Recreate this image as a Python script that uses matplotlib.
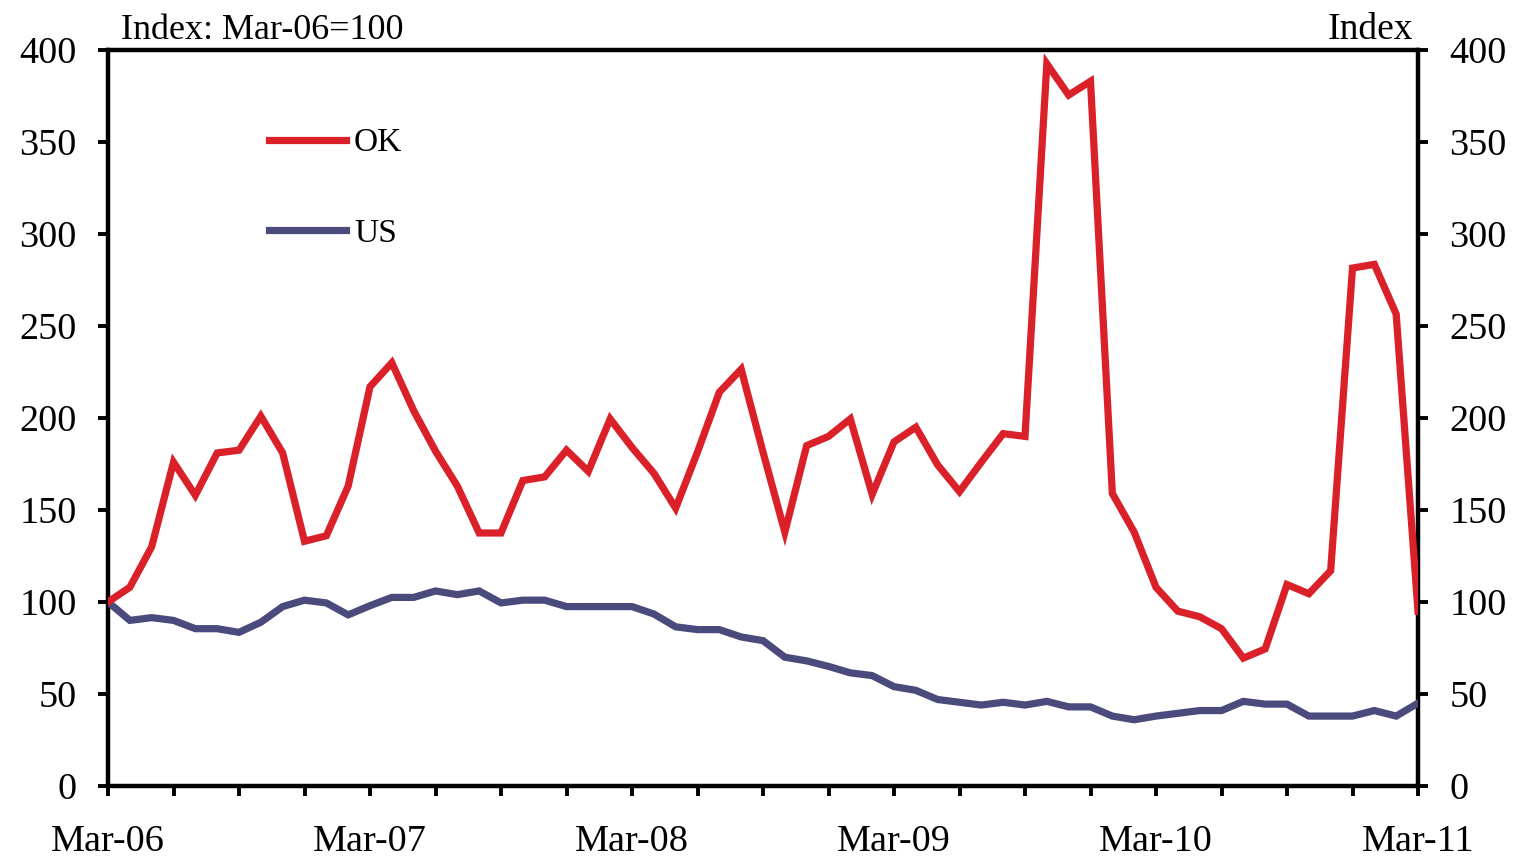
import matplotlib
matplotlib.use("Agg")
import matplotlib.pyplot as plt
import numpy as np

plt.rcParams['font.family'] = ['Liberation Serif', 'DejaVu Serif']

tick_labels = ["Mar-06", "Mar-07", "Mar-08", "Mar-09", "Mar-10", "Mar-11"]

ok = [100, 108, 130, 176, 158, 181, 182.5, 201, 181, 133, 136, 163,
      217, 230, 204, 182, 163, 137.5, 137.5, 166, 168, 182.5, 171, 199.5,
      184, 170, 151, 181.5, 214, 226.5, 181.5, 138, 185, 190, 199.5, 158.5,
      187, 195, 174.5, 160, 176, 191.5, 190, 392.5, 375.5, 383, 159, 138,
      108, 95, 92, 85.5, 69.5, 74.5, 109.5, 104.5, 117, 281.5, 283.5, 256.5,
      95]

us = [100, 90, 91.5, 90, 85.5, 85.5, 83.5, 89, 97.5, 101, 99.5, 93,
      98, 102.5, 102.5, 106, 104, 106, 99.5, 101, 101, 97.5, 97.5, 97.5,
      97.5, 93.5, 86.5, 85, 85, 81, 79, 70, 68, 65, 61.5, 60,
      54, 52, 47, 45.5, 44, 45.5, 44, 46, 43, 43, 38, 36,
      38, 39.5, 41, 41, 46, 44.5, 44.5, 38, 38, 38, 41, 38,
      45]

months = np.arange(len(ok))

fig = plt.figure(figsize=(15.18, 8.61), dpi=100)
ax = fig.add_axes([108/1518, 1-786/861, (1418-108)/1518, (786-50)/861])

red = '#DA2029'
blue = '#4B4A7C'
ax.plot(months, us, color=blue, lw=5.2, solid_joinstyle='miter', label='US', zorder=3)
ax.plot(months, ok, color=red, lw=5.2, solid_joinstyle='miter', label='OK', zorder=4)

ax.set_xlim(0, 60)
ax.set_ylim(0, 400)
ax.set_yticks(np.arange(0, 401, 50))
ax.set_xticks(np.arange(0, 61, 3))
ax.set_xticklabels([tick_labels[i // 12] if i % 12 == 0 else '' for i in range(0, 61, 3)])

for s in ax.spines.values():
    s.set_linewidth(3.2)

ax.tick_params(axis='x', direction='out', length=7.5, width=2.8, pad=20, labelsize=27.5)
ax.tick_params(axis='y', direction='out', length=7.5, width=2.8, pad=15, labelsize=27.5,
               left=True, right=True, labelleft=True, labelright=True)

ax.text(0.01, 1.004, 'Index: Mar-06=100', transform=ax.transAxes, fontsize=26,
        ha='left', va='bottom')
ax.text(0.996, 1.004, 'Index', transform=ax.transAxes, fontsize=27,
        ha='right', va='bottom')

handles, labels = ax.get_legend_handles_labels()
leg = ax.legend(handles[::-1], labels[::-1], loc='upper left',
                bbox_to_anchor=(0.10, 0.935), frameon=False, fontsize=24,
                handlelength=2.3, handletextpad=0.25, labelspacing=1.8)

fig.savefig('out.png', dpi=100)
